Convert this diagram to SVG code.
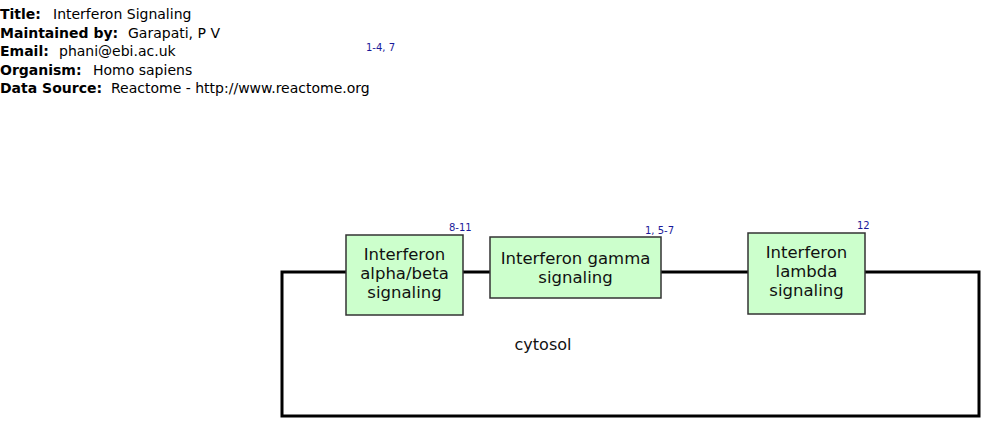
<svg xmlns="http://www.w3.org/2000/svg" width="1000" height="438" viewBox="0 0 1000 438">
<style>
text{font-family:"DejaVu Sans",sans-serif}
.h{font-size:14px;fill:#000}
.b{font-weight:bold}
.n{fill:#ccffcc;stroke:#333;stroke-width:1.5}
.nt{font-size:16.5px;fill:#111;text-anchor:middle}
.ref{font-size:10px;fill:#1a1a99}
.comp{fill:none;stroke:#000;stroke-width:3}
</style>
<rect width="1000" height="438" fill="#fff"/>
<g id="header">
<text class="h b" x="0" y="19">Title:</text><text class="h" x="53" y="19">Interferon Signaling</text>
<text class="h b" x="0" y="37.5">Maintained by:</text><text class="h" x="128" y="37.5">Garapati, P V</text>
<text class="h b" x="0" y="56">Email:</text><text class="h" x="59" y="56">phani@ebi.ac.uk</text>
<text class="h b" x="0" y="74.5">Organism:</text><text class="h" x="93" y="74.5">Homo sapiens</text>
<text class="h b" x="0" y="93">Data Source:</text><text class="h" x="111" y="93">Reactome - http://www.reactome.org</text>
<text class="ref" x="366" y="51">1-4, 7</text>
</g>
<g id="connectors">
<rect id="cytosol-compartment" class="comp" x="282" y="272" width="697" height="144"/>
</g>
<g id="cytosol">
<text x="543" y="350" style="font-size:16px;fill:#111" text-anchor="middle">cytosol</text>
</g>
<g id="node-alpha-beta">
<rect class="n" x="346" y="235" width="117" height="80"/>
<text class="nt" x="404.5" y="260">Interferon</text>
<text class="nt" x="404.5" y="279">alpha/beta</text>
<text class="nt" x="404.5" y="298">signaling</text>
<text class="ref" x="449" y="231">8-11</text>
</g>
<g id="node-gamma">
<rect class="n" x="490" y="237" width="171" height="61"/>
<text class="nt" x="575.5" y="264">Interferon gamma</text>
<text class="nt" x="575.5" y="283">signaling</text>
<text class="ref" x="645" y="234">1, 5-7</text>
</g>
<g id="node-lambda">
<rect class="n" x="748" y="233" width="117" height="81"/>
<text class="nt" x="806.5" y="258">Interferon</text>
<text class="nt" x="806.5" y="277">lambda</text>
<text class="nt" x="806.5" y="296">signaling</text>
<text class="ref" x="857" y="229">12</text>
</g>
</svg>
